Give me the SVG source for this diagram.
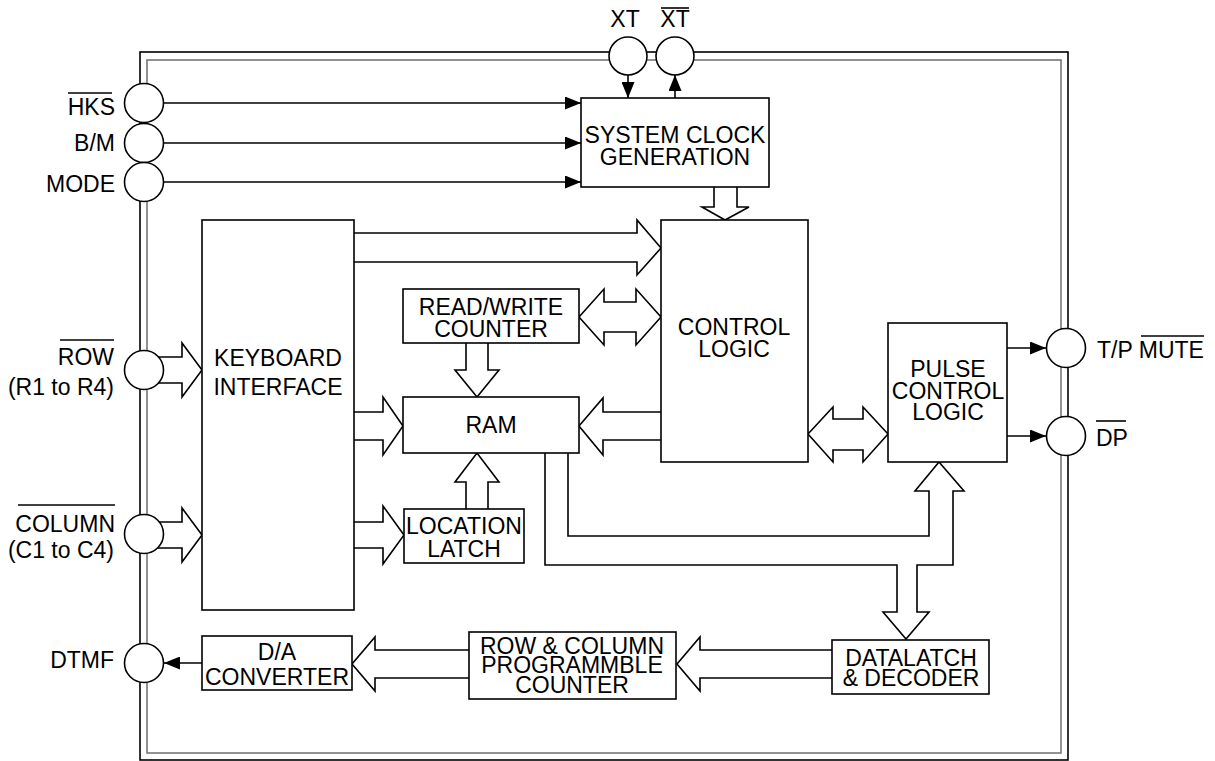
<svg xmlns="http://www.w3.org/2000/svg" width="1215" height="761" viewBox="0 0 1215 761">
<style>
.box{fill:#fff;stroke:#000;stroke-width:1.6}
.bus{fill:#fff;stroke:#000;stroke-width:1.6;stroke-linejoin:miter}
.wire{fill:none;stroke:#000;stroke-width:1.6}
.pin{fill:#fff;stroke:#000;stroke-width:1.6}
.ol{stroke:#000;stroke-width:1.6}
text{font-family:"Liberation Sans",Arial,sans-serif;font-size:23px;fill:#000}
.c{text-anchor:middle}
.r{text-anchor:end}
</style>
<defs>
<marker id="ah" viewBox="0 0 16 13" refX="16" refY="6.5" markerWidth="16" markerHeight="13" markerUnits="userSpaceOnUse" orient="auto"><path d="M0,0 L16,6.5 L0,13 z" fill="#000"/></marker>
</defs>
<rect width="1215" height="761" fill="#fff"/>
<g id="frame">
<rect x="140" y="52" width="928" height="708" fill="none" stroke="#000" stroke-width="1.6"/>
<rect x="147" y="60" width="914" height="693" fill="none" stroke="#777" stroke-width="1.6"/>
</g>
<g id="connectors">
<path class="bus" d="M714,187 V207 H702 L725,220 L749,207 H737 V187"/>
<path class="bus" d="M354,233 H637 V220 L661,248 L637,275 V262 H354"/>
<path class="bus" d="M579,317 L604,289 V302 H636 V289 L661,317 L636,345 V332 H604 V345 Z"/>
<path class="bus" d="M466,343 V370 H455 L477,397 L499,370 H488 V343"/>
<path class="bus" d="M354,412 H383 V397 L403,426 L383,455 V440 H354"/>
<path class="bus" d="M661,412 H603 V398 L579,426 L603,455 V440 H661"/>
<path class="bus" d="M466,509 V482 H455 L477,453 L499,482 H488 V509"/>
<path class="bus" d="M354,522 H383 V506 L404,535 L383,564 V548 H354"/>
<path class="bus" d="M150,357 H182 V343 L202,370 L182,397 V383 H150"/>
<path class="bus" d="M150,522 H182 V508 L202,535 L182,562 V548 H150"/>
<path class="bus" d="M808,434 L833,407 V419 H863 V407 L888,434 L863,462 V450 H833 V462 Z"/>
<path class="bus" d="M545,453 V565 H897 V612 H883 L906,639 L929,612 H917 V565 H953 V491 H964 L939,462 L915,491 H929 V536 H568 V453"/>
<path class="bus" d="M832,650 H700 V637 L677,664 L700,691 V678 H832"/>
<path class="bus" d="M469,650 H375 V637 L352,664 L375,691 V678 H469"/>
<path class="wire" d="M163,103 H581" marker-end="url(#ah)"/>
<path class="wire" d="M163,143 H581" marker-end="url(#ah)"/>
<path class="wire" d="M163,182 H581" marker-end="url(#ah)"/>
<path class="wire" d="M628,75 V98" marker-end="url(#ah)"/>
<path class="wire" d="M675,98 V75" marker-end="url(#ah)"/>
<path class="wire" d="M1007,348 H1046" marker-end="url(#ah)"/>
<path class="wire" d="M1007,436 H1046" marker-end="url(#ah)"/>
<path class="wire" d="M202,663 H164" marker-end="url(#ah)"/>
</g>
<g id="scg"><rect class="box" x="581" y="98" width="188" height="89"/><text class="c" x="675" y="143" textLength="181" lengthAdjust="spacingAndGlyphs">SYSTEM CLOCK</text><text class="c" x="675" y="165">GENERATION</text></g>
<g id="control-logic"><rect class="box" x="661" y="220" width="147" height="242"/><text class="c" x="734" y="335">CONTROL</text><text class="c" x="734" y="357">LOGIC</text></g>
<g id="keyboard-interface"><rect class="box" x="202" y="220" width="152" height="390"/><text class="c" x="278" y="366">KEYBOARD</text><text class="c" x="278" y="395">INTERFACE</text></g>
<g id="rw-counter"><rect class="box" x="403" y="289" width="176" height="54"/><text class="c" x="491" y="315">READ/WRITE</text><text class="c" x="491" y="337">COUNTER</text></g>
<g id="ram"><rect class="box" x="403" y="397" width="176" height="56"/><text class="c" x="491" y="433">RAM</text></g>
<g id="location-latch"><rect class="box" x="404" y="509" width="120" height="54"/><text class="c" x="464" y="534">LOCATION</text><text class="c" x="464" y="557">LATCH</text></g>
<g id="pulse-control"><rect class="box" x="888" y="323" width="119" height="139"/><text class="c" x="948" y="377">PULSE</text><text class="c" x="948" y="399">CONTROL</text><text class="c" x="948" y="420">LOGIC</text></g>
<g id="datalatch"><rect class="box" x="832" y="640" width="157" height="54"/><text class="c" x="911" y="666">DATALATCH</text><text class="c" x="911" y="686">&amp; DECODER</text></g>
<g id="rc-counter"><rect class="box" x="469" y="632" width="207" height="67"/><text class="c" x="572" y="654">ROW &amp; COLUMN</text><text class="c" x="572" y="673">PROGRAMMBLE</text><text class="c" x="572" y="693">COUNTER</text></g>
<g id="da-converter"><rect class="box" x="202" y="636" width="150" height="54"/><text class="c" x="277" y="660">D/A</text><text class="c" x="277" y="685">CONVERTER</text></g>
<g id="pin-hks"><circle class="pin" cx="144" cy="103" r="19.5"/><text class="r" x="115" y="115">HKS</text><line class="ol" x1="68" y1="93" x2="112" y2="93"/></g>
<g id="pin-bm"><circle class="pin" cx="144" cy="143" r="19.5"/><text class="r" x="115" y="151">B/M</text></g>
<g id="pin-mode"><circle class="pin" cx="144" cy="182" r="19.5"/><text class="r" x="115" y="192">MODE</text></g>
<g id="pin-row"><circle class="pin" cx="144" cy="370" r="19.5"/><text class="r" x="114" y="365">ROW</text><line class="ol" x1="60" y1="340" x2="114" y2="340"/><text class="r" x="114" y="395">(R1 to R4)</text></g>
<g id="pin-column"><circle class="pin" cx="144" cy="534" r="19.5"/><text class="r" x="115" y="532">COLUMN</text><line class="ol" x1="18" y1="505" x2="115" y2="505"/><text class="r" x="114" y="558">(C1 to C4)</text></g>
<g id="pin-dtmf"><circle class="pin" cx="144" cy="663" r="19.5"/><text class="r" x="114" y="668">DTMF</text></g>
<g id="pin-xt"><circle class="pin" cx="628" cy="56" r="19"/><text class="c" x="625" y="27">XT</text></g>
<g id="pin-xtb"><circle class="pin" cx="675" cy="56" r="19"/><text class="c" x="675" y="27">XT</text><line class="ol" x1="661" y1="8" x2="689" y2="8"/></g>
<g id="pin-tp"><circle class="pin" cx="1066" cy="348" r="19.5"/><text x="1097" y="358">T/P MUTE</text><line class="ol" x1="1141" y1="336" x2="1204" y2="336"/></g>
<g id="pin-dp"><circle class="pin" cx="1066" cy="436" r="19.5"/><text x="1096" y="446">DP</text><line class="ol" x1="1096" y1="421" x2="1126" y2="421"/></g>
</svg>
